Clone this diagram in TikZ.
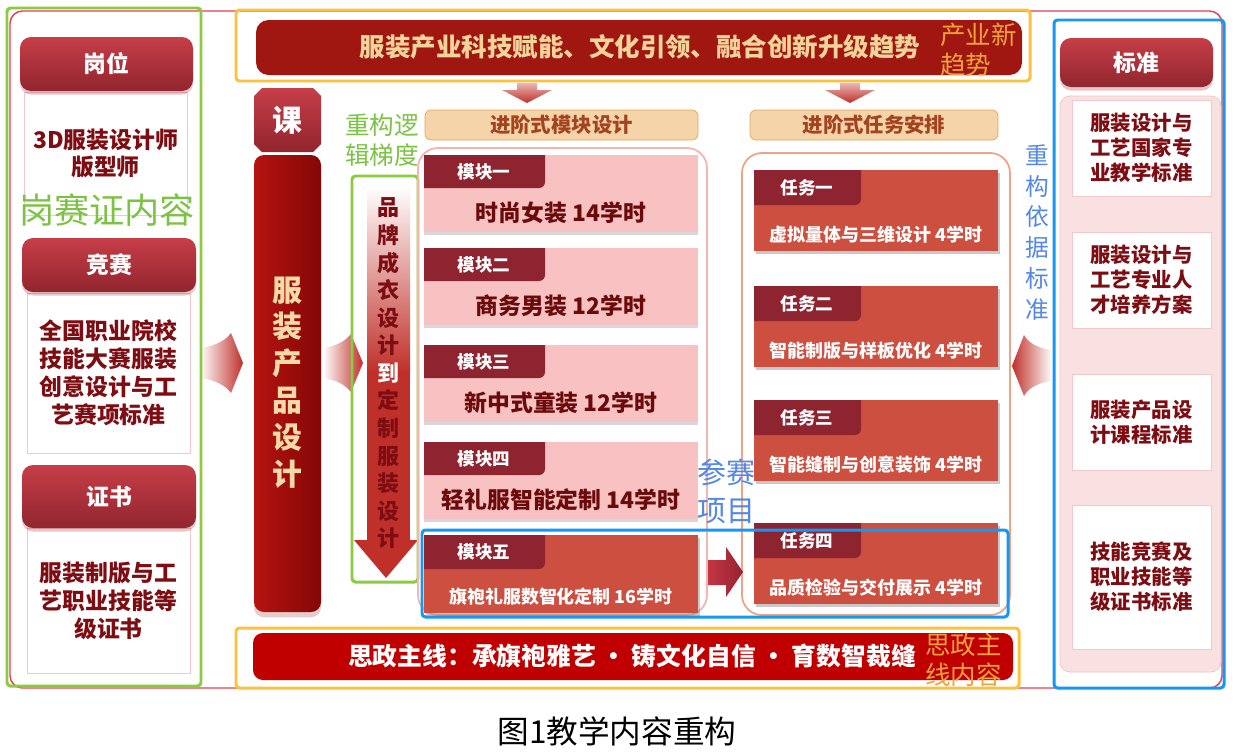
\documentclass[tikz,border=0pt]{standalone}
\usepackage{fontspec}
\setmainfont{Noto Sans CJK SC}
\usetikzlibrary{shadows,fit}

\definecolor{framered}{HTML}{E2404E}
\definecolor{hdrtop}{HTML}{C63E48}
\definecolor{hdrbot}{HTML}{91252E}
\definecolor{cardline}{HTML}{F2C8C8}
\definecolor{maroon}{HTML}{7D0D12}
\definecolor{orangeframe}{HTML}{FDC13C}
\definecolor{greenframe}{HTML}{8CCB3F}
\definecolor{greentext}{HTML}{7CC243}
\definecolor{blueframe}{HTML}{1598F2}
\definecolor{bluetext}{HTML}{5487E6}
\definecolor{orangetext}{HTML}{F2A23C}
\definecolor{bannerred}{HTML}{9F1710}
\definecolor{bannertext}{HTML}{F2D49B}
\definecolor{colA}{HTML}{B5130F}
\definecolor{colB}{HTML}{840707}
\definecolor{beige}{HTML}{F5D9A6}
\definecolor{stagefill}{HTML}{F4D4A8}
\definecolor{stageline}{HTML}{EAA55A}
\definecolor{stagetext}{HTML}{A3431F}
\definecolor{modpink}{HTML}{F9C2C2}
\definecolor{tabred}{HTML}{8E2430}
\definecolor{taskred}{HTML}{CD4F40}
\definecolor{modtextc}{HTML}{6B0A0A}
\definecolor{contpink}{HTML}{F4B4B0}
\definecolor{contorange}{HTML}{EFA488}
\definecolor{panelpink}{HTML}{F9E1E1}
\definecolor{panelline}{HTML}{F0C5C5}
\definecolor{botred}{HTML}{C00000}
\definecolor{arrowred}{HTML}{C0302A}
\definecolor{blockA}{HTML}{C43644}
\definecolor{blockB}{HTML}{962230}

\tikzset{
  hdr/.style={rounded corners=0.22cm, top color=hdrtop, bottom color=hdrbot, inner sep=0pt,
    drop shadow={shadow xshift=0pt, shadow yshift=-2pt, opacity=0.25, fill=hdrbot}},
  hdrtext/.style={text=white, font=\bfseries\fontsize{13}{15}\selectfont},
  card/.style={fill=white, draw=cardline, inner sep=0pt},
  cardtext/.style={align=center, text=maroon, font=\bfseries\fontsize{13}{15.9}\selectfont},
  stdtext/.style={cardtext, font=\bfseries\fontsize{11.6}{14.2}\selectfont},
  frame/.style={rounded corners=2pt, line width=1.7pt},
  stage/.style={rounded corners=0.12cm, fill=stagefill, draw=stageline, inner sep=0pt},
  stagetext/.style={text=stagetext, font=\bfseries\fontsize{11.6}{14}\selectfont},
  modbox/.style={fill=modpink, inner sep=0pt,
    drop shadow={shadow xshift=0pt, shadow yshift=-1.5pt, opacity=0.3, fill=black!50}},
  taskbox/.style={fill=taskred, inner sep=0pt,
    drop shadow={shadow xshift=1pt, shadow yshift=-1.5pt, opacity=0.35, fill=black!60}},
  tabtext/.style={text=white, font=\bfseries\fontsize{10}{12}\selectfont},
  modtext/.style={text=modtextc, font=\bfseries\fontsize{13}{15}\selectfont},
  tasktext/.style={text=white, font=\bfseries\fontsize{10.2}{12}\selectfont},
  note/.style={inner sep=0pt, align=left, font=\fontsize{14.5}{17}\selectfont}
}

\begin{document}
\begin{tikzpicture}[x=0.02cm,y=-0.02cm]
\useasboundingbox (0,0) rectangle (1238,754);
\fill[white] (0,0) rectangle (1238,754);
%Rahmen
\draw[framered, rounded corners=0.25cm, line width=0.8pt] (10,11) rectangle (1222,688);

%Linke Spalte: Karten
\node[card, fit={(24,92)(187,215)}] (gangweicard) {};
\node[cardtext] (gangweitext) at (gangweicard) {3D服装设计师\\版型师};
\node[card, fit={(27,293)(190,453)}] (jingsaicard) {};
\node[cardtext] (jingsaitext) at (jingsaicard) {全国职业院校\\技能大赛服装\\创意设计与工\\艺赛项标准};
\node[card, fit={(27,528)(190,673)}] (zhengshucard) {};
\node[cardtext] (zhengshutext) at (zhengshucard) {服装制版与工\\艺职业技能等\\级证书};
\node[hdr, fit={(20,37)(193,91)}] (gangwei) {};
\node[hdrtext] at (gangwei) {岗位};
\node[hdr, fit={(22,238)(196,292)}] (jingsai) {};
\node[hdrtext] at (jingsai) {竞赛};
\node[hdr, fit={(22,465)(196,528)}] (zhengshu) {};
\node[hdrtext] at (zhengshu) {证书};
\node[text=greentext, font=\fontsize{20}{24}\selectfont] (gszlabel) at (107,210) {岗赛证内容};

%Pfeile nach rechts
\shade[left color=white, right color=arrowred] (200,348) .. controls (216,346) and (226,340) .. (231,333)
  -- (243,363) -- (231,393) .. controls (226,386) and (216,380) .. (200,378) -- cycle;
\shade[left color=white, right color=arrowred] (323,348) .. controls (338,346) and (346,340) .. (351,334)
  -- (363,363) -- (351,392) .. controls (346,386) and (338,380) .. (323,378) -- cycle;
\shade[left color=arrowred, right color=white] (1052,350) .. controls (1036,348) and (1028,342) .. (1024,335)
  -- (1012,366) -- (1024,396) .. controls (1028,389) and (1036,383) .. (1052,381) -- cycle;

%Kurs
\shade[top color=hdrtop, bottom color=hdrbot] (262,88) -- (313,88) -- (321,96) -- (321,144)
  -- (313,152) -- (262,152) -- (254,144) -- (254,96) -- cycle;
\node[text=white, font=\bfseries\fontsize{17}{20}\selectfont] (ke) at (287.5,120) {课};
\node[fit={(254,155)(321,612)}, inner sep=0pt, rounded corners=0.2cm, left color=colA, right color=colB,
  drop shadow={shadow xshift=0pt, shadow yshift=-3pt, opacity=0.2, fill=colB}] (kebar) {};
\node[text=beige, align=center, inner sep=0pt, font=\bfseries\fontsize{17}{21}\selectfont] (kename)
  at (287.5,382.5) {服\\装\\产\\品\\设\\计};

%Logik
\node[note, anchor=west, text=greentext, font=\fontsize{14}{17}\selectfont] (logiklabel) at (345,140) {重构逻\\辑梯度};
\shade[top color=white, bottom color=arrowred] (367,186) rectangle (410,372);
\fill[arrowred] (367,371) rectangle (410,541);
\fill[arrowred] (354,540) -- (418,540) -- (386,578) -- cycle;
\node[text=maroon, align=center, inner sep=0pt, font=\bfseries\fontsize{12.5}{15.7}\selectfont] (logik) at (388.5,373.5)
  {品\\牌\\成\\衣\\设\\计\\\color{white}到\\定\\制\\服\\装\\设\\计};
\draw[greenframe, frame] (352,176) rectangle (418,582);

%Banner oben
\node[fit={(256,20)(1022,75)}, inner sep=0pt, rounded corners=0.25cm, fill=bannerred] (trendbar) {};
\node[text=bannertext, font=\bfseries\fontsize{14.5}{17}\selectfont] (trend) at (640,47) {服装产业科技赋能、文化引领、融合创新升级趋势};
\node[note, anchor=west, text=orangetext] (trendlabel) at (940,50) {产业新\\趋势};
\draw[orangeframe, frame] (236,10) rectangle (1030,81);
\foreach \x in {527,850}
  \shade[top color=arrowred!35, bottom color=arrowred] (\x-10,83) -- (\x+10,83) -- (\x+10,90) -- (\x+25,90)
    -- (\x,103) -- (\x-25,90) -- (\x-10,90) -- cycle;

%Module
\node[stage, fit={(425,110)(698,140)}] (modhead) {};
\node[stagetext] at (modhead) {进阶式模块设计};
\draw[contpink, line width=1pt, rounded corners=0.4cm] (418,148) rectangle (707,615);
\foreach \i/\y/\nr/\txt in {1/155/一/时尚女装 14学时, 2/248/二/商务男装 12学时,
    3/345/三/新中式童装 12学时, 4/442/四/轻礼服智能定制 14学时}{
  \node[modbox, fit={(424,\y)(698,\y+77)}] (mod\i) {};
  \fill[tabred] (424,\y) -- (545,\y) -- (545,\y+27) arc[start angle=0, end angle=-90, radius=0.12cm]
    -- (424,\y+33) -- cycle;
  \node[tabtext] (modtab\i) at (484,\y+16.5) {模块\nr};
  \node[modtext] (modname\i) at (561,\y+58) {\txt};
}
\node[taskbox, fit={(424,535)(698,613)}] (mod5) {};
\fill[tabred] (424,535) -- (545,535) -- (545,563) arc[start angle=0, end angle=-90, radius=0.12cm]
  -- (424,569) -- cycle;
\node[tabtext] (modtab5) at (484,552) {模块五};
\node[tasktext] (modname5) at (561,597) {旗袍礼服数智化定制 16学时};

%Aufgaben
\node[stage, fit={(750,110)(998,140)}] (taskhead) {};
\node[stagetext] at (taskhead) {进阶式任务安排};
\draw[contorange, line width=1pt, rounded corners=0.4cm] (742,153) rectangle (1010,615);
\foreach \i/\y/\nr/\txt in {1/170/一/虚拟量体与三维设计 4学时, 2/286/二/智能制版与样板优化 4学时,
    3/400/三/智能缝制与创意装饰 4学时, 4/523/四/品质检验与交付展示 4学时}{
  \node[taskbox, fit={(754,\y)(998,\y+81)}] (task\i) {};
  \fill[tabred] (754,\y) -- (861,\y) -- (861,\y+29) arc[start angle=0, end angle=-90, radius=0.12cm]
    -- (754,\y+35) -- cycle;
  \node[tabtext] (tasktab\i) at (807,\y+17.5) {任务\nr};
  \node[tasktext] (taskname\i) at (876,\y+65) {\txt};
}
\shade[left color=blockA, right color=blockB] (708,560) -- (726,560) -- (726,547) -- (743,572)
  -- (726,597) -- (726,585) -- (708,585) -- cycle;
\node[note, anchor=west, text=bluetext, font=\fontsize{16.5}{21.5}\selectfont] (contestlabel) at (697,491) {参赛\\项目};
\draw[blueframe, frame] (422,530) rectangle (1008,617);

%Standards
\node[text=bluetext, inner sep=0pt, align=center, font=\fontsize{13.5}{17.6}\selectfont] (basislabel) at (1037,232.5)
  {重\\构\\依\\据\\标\\准};
\node[fit={(1060,96)(1221,672)}, inner sep=0pt, rounded corners=0.2cm, fill=panelpink, draw=panelline] (stdpanel) {};
\foreach \i/\a/\b/\txt in {1/100/196/{服装设计与\\工艺国家专\\业教学标准}, 2/232/328/{服装设计与\\工艺专业人\\才培养方案},
    3/374/470/{服装产品设\\计课程标准}, 4/505/649/{技能竞赛及\\职业技能等\\级证书标准}}{
  \node[card, fit={(1072,\a)(1211,\b)}] (std\i) {};
  \node[stdtext] (stdtext\i) at (std\i) {\txt};
}
\node[hdr, fit={(1060,38)(1213,87)}] (biaozhun) {};
\node[hdrtext] at (biaozhun) {标准};
\draw[blueframe, frame] (1054,20) rectangle (1224,688);

%Banner unten
\node[fit={(253,633)(1013,680)}, inner sep=0pt, rounded corners=0.2cm, fill=botred] (szbar) {};
\node[text=white, font=\bfseries\fontsize{14.1}{17}\selectfont] (sz) at (632,656) {思政主线：承旗袍雅艺 · 铸文化自信 · 育数智裁缝};
\node[note, anchor=west, text=orangetext] (szlabel) at (925,660) {思政主\\线内容};
\draw[orangeframe, frame] (236,628) rectangle (1019,688);

%Linker Rahmen
\draw[greenframe, frame] (7,8) rectangle (201,686);

%Bildunterschrift
\node[font=\fontsize{18}{20}\selectfont] (caption) at (617,731) {图1教学内容重构};
\end{tikzpicture}
\end{document}
